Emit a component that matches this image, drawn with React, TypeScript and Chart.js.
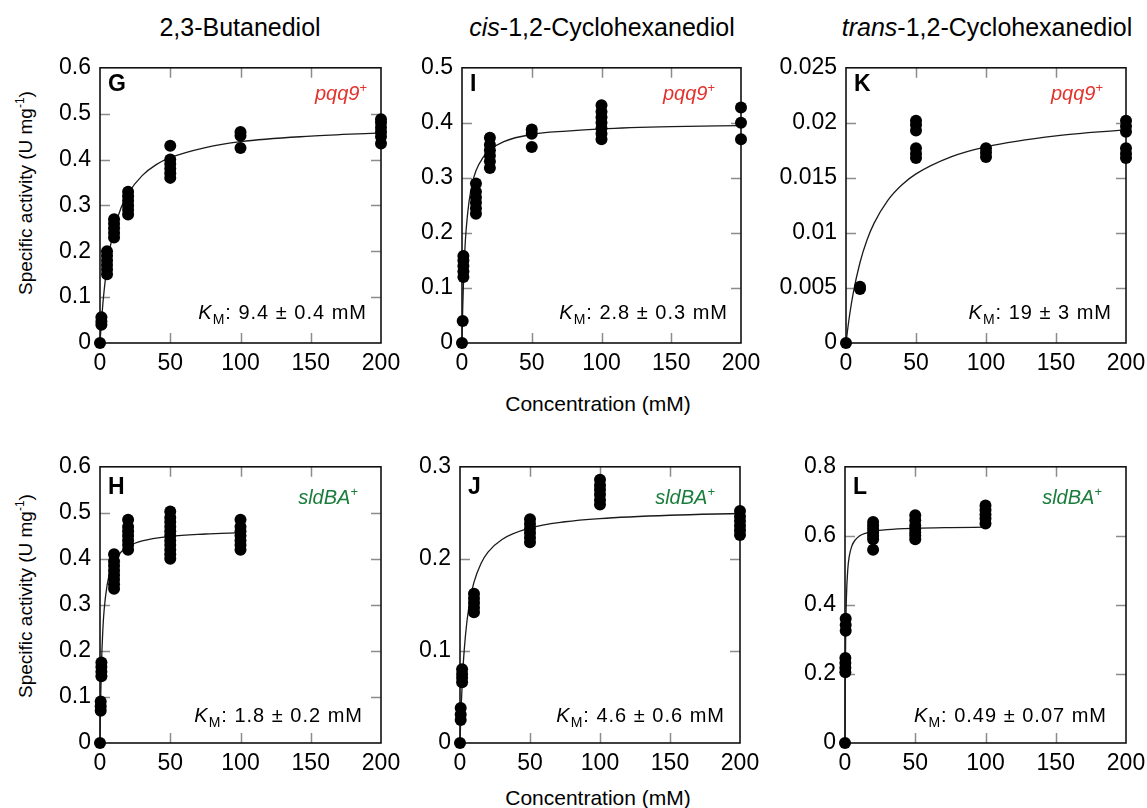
import React, { useEffect, useRef } from "react";
import { Chart, registerables } from "chart.js";

Chart.register(...registerables);

const FONT = '"Liberation Sans", Arial, Helvetica, sans-serif';

// ---------------- Data ----------------
// G: 2,3-Butanediol, pqq9+
const gConc = [0, 1, 1, 1, 5, 5, 5, 5, 5, 5, 10, 10, 10, 10, 10, 20, 20, 20, 20, 20, 20, 50, 50, 50, 50, 50, 50, 100, 100, 100, 200, 200, 200, 200, 200, 200];
const gAct = [0, 0.04, 0.047, 0.056, 0.15, 0.16, 0.17, 0.18, 0.19, 0.2, 0.23, 0.24, 0.25, 0.26, 0.27, 0.28, 0.29, 0.3, 0.31, 0.32, 0.33, 0.36, 0.37, 0.38, 0.39, 0.4, 0.43, 0.425, 0.452, 0.46, 0.435, 0.45, 0.46, 0.47, 0.48, 0.488];
const gFitConc = [0, 0.5, 1, 2, 3, 5, 7.5, 10, 15, 20, 30, 40, 50, 75, 100, 150, 200];
const gFitAct = [0, 0.024, 0.046, 0.084, 0.116, 0.167, 0.213, 0.247, 0.295, 0.326, 0.365, 0.389, 0.404, 0.426, 0.439, 0.451, 0.458];

// I: cis-1,2-Cyclohexanediol, pqq9+
const iConc = [0, 0.5, 1, 1, 1, 1, 1, 10, 10, 10, 10, 10, 10, 20, 20, 20, 20, 20, 20, 50, 50, 50, 100, 100, 100, 100, 100, 100, 100, 200, 200, 200];
const iAct = [0, 0.04, 0.12, 0.13, 0.14, 0.15, 0.158, 0.235, 0.245, 0.255, 0.265, 0.275, 0.29, 0.318, 0.33, 0.34, 0.35, 0.36, 0.373, 0.356, 0.38, 0.388, 0.37, 0.38, 0.39, 0.4, 0.41, 0.42, 0.432, 0.37, 0.4, 0.428];
const iFitConc = [0, 0.5, 1, 2, 3, 5, 7.5, 10, 15, 20, 30, 50, 75, 100, 150, 200];
const iFitAct = [0, 0.061, 0.105, 0.167, 0.207, 0.256, 0.291, 0.313, 0.337, 0.351, 0.366, 0.379, 0.385, 0.389, 0.393, 0.395];

// K: trans-1,2-Cyclohexanediol, pqq9+
const kConc = [0, 10, 10, 50, 50, 50, 50, 50, 50, 100, 100, 100, 200, 200, 200, 200, 200, 200];
const kAct = [0, 0.0049, 0.0051, 0.0168, 0.0172, 0.0177, 0.0193, 0.0198, 0.0202, 0.0169, 0.0173, 0.0177, 0.0168, 0.0172, 0.0177, 0.0192, 0.0197, 0.0202];
const kFitConc = [0, 2, 5, 10, 15, 20, 30, 40, 50, 75, 100, 150, 200];
const kFitAct = [0, 0.00202, 0.00442, 0.00731, 0.00935, 0.01087, 0.01298, 0.01437, 0.01536, 0.01691, 0.01782, 0.01882, 0.01936];

// H: 2,3-Butanediol, sldBA+
const hConc = [0, 0.5, 0.5, 0.5, 1, 1, 1, 1, 10, 10, 10, 10, 10, 10, 10, 10, 20, 20, 20, 20, 20, 20, 20, 50, 50, 50, 50, 50, 50, 50, 50, 50, 50, 50, 100, 100, 100, 100, 100, 100, 100];
const hAct = [0, 0.07, 0.08, 0.09, 0.145, 0.155, 0.165, 0.175, 0.335, 0.345, 0.355, 0.365, 0.375, 0.385, 0.395, 0.41, 0.42, 0.43, 0.44, 0.45, 0.46, 0.47, 0.485, 0.4, 0.41, 0.42, 0.43, 0.44, 0.45, 0.46, 0.47, 0.48, 0.49, 0.503, 0.42, 0.43, 0.44, 0.45, 0.46, 0.47, 0.485];
const hFitConc = [0, 0.25, 0.5, 1, 2, 3, 5, 7.5, 10, 15, 20, 30, 50, 75, 100];
const hFitAct = [0, 0.0567, 0.101, 0.166, 0.245, 0.291, 0.342, 0.375, 0.394, 0.415, 0.427, 0.439, 0.449, 0.454, 0.457];

// J: cis-1,2-Cyclohexanediol, sldBA+
const jConc = [0, 0.5, 0.5, 0.5, 1.5, 1.5, 1.5, 1.5, 10, 10, 10, 10, 10, 50, 50, 50, 50, 50, 50, 100, 100, 100, 100, 100, 100, 200, 200, 200, 200, 200, 200];
const jAct = [0, 0.025, 0.031, 0.038, 0.066, 0.071, 0.075, 0.08, 0.142, 0.147, 0.152, 0.157, 0.162, 0.218, 0.223, 0.228, 0.233, 0.238, 0.243, 0.259, 0.264, 0.27, 0.275, 0.28, 0.286, 0.226, 0.231, 0.236, 0.241, 0.246, 0.252];
const jFitConc = [0, 0.5, 1, 2, 3, 5, 7.5, 10, 15, 20, 30, 50, 75, 100, 150, 200];
const jFitAct = [0, 0.025, 0.0455, 0.0773, 0.1006, 0.1328, 0.158, 0.1747, 0.195, 0.2073, 0.2211, 0.2335, 0.2403, 0.2438, 0.2474, 0.2493];

// L: trans-1,2-Cyclohexanediol, sldBA+
const lConc = [0, 0.25, 0.25, 0.25, 0.25, 0.5, 0.5, 0.5, 20, 20, 20, 20, 20, 20, 20, 50, 50, 50, 50, 50, 50, 50, 100, 100, 100, 100, 100];
const lAct = [0, 0.205, 0.218, 0.232, 0.246, 0.325, 0.342, 0.36, 0.56, 0.59, 0.6, 0.61, 0.62, 0.63, 0.64, 0.59, 0.6, 0.61, 0.62, 0.63, 0.645, 0.66, 0.636, 0.65, 0.662, 0.675, 0.688];
const lFitConc = [0, 0.1, 0.25, 0.5, 1, 2, 3, 5, 7.5, 10, 15, 20, 30, 50, 75, 100];
const lFitAct = [0, 0.1064, 0.212, 0.317, 0.421, 0.504, 0.54, 0.572, 0.589, 0.599, 0.608, 0.613, 0.618, 0.622, 0.624, 0.625];

const xTicks = [0, 50, 100, 150, 200];

// ---------------- Layout ----------------
const PADL = 75;
const PADT = 20;
const PADR = 30;
const PADB = 40;

const RED = "#e3312b";
const GREEN = "#1b7d3c";

const decoPlugin = {
  id: "deco",
  beforeDatasetsDraw(chart: any) {
    const { ctx, chartArea: a, scales } = chart;
    const xs = scales.x;
    const ys = scales.y;
    ctx.save();
    ctx.strokeStyle = "#8c8c8c";
    ctx.lineWidth = 1.5;
    ctx.beginPath();
    xs.ticks.forEach((t: any) => {
      if (t.value <= xs.min || t.value >= xs.max) return;
      const px = Math.round(xs.getPixelForValue(t.value)) + 0.5;
      ctx.moveTo(px, a.top);
      ctx.lineTo(px, a.top + 10);
      ctx.moveTo(px, a.bottom);
      ctx.lineTo(px, a.bottom - 10);
    });
    ys.ticks.forEach((t: any) => {
      if (t.value <= ys.min + 1e-9 || t.value >= ys.max - 1e-9) return;
      const py = Math.round(ys.getPixelForValue(t.value)) + 0.5;
      ctx.moveTo(a.left, py);
      ctx.lineTo(a.left + 10, py);
      ctx.moveTo(a.right, py);
      ctx.lineTo(a.right - 10, py);
    });
    ctx.stroke();
    ctx.strokeStyle = "#111";
    ctx.lineWidth = 1.6;
    ctx.strokeRect(a.left, a.top, a.right - a.left, a.bottom - a.top);
    ctx.restore();
  },
  afterDatasetsDraw(chart: any, _args: any, opts: any) {
    const { ctx, chartArea: a } = chart;
    ctx.save();
    ctx.textBaseline = "alphabetic";
    ctx.textAlign = "left";
    // panel letter
    ctx.fillStyle = "#000";
    ctx.font = `bold 23px ${FONT}`;
    ctx.fillText(opts.letter, a.left + 8, a.top + opts.letterDy);
    // strain label
    ctx.fillStyle = opts.strainColor;
    ctx.font = `italic 20px ${FONT}`;
    const w1 = ctx.measureText(opts.strain).width;
    ctx.font = `13px ${FONT}`;
    const w2 = ctx.measureText("+").width;
    const sx = a.right - opts.strainInset - w1 - w2;
    const sy = a.top + opts.strainDy;
    ctx.font = `italic 20px ${FONT}`;
    ctx.fillText(opts.strain, sx, sy);
    ctx.font = `13px ${FONT}`;
    ctx.fillText("+", sx + w1, sy - 8);
    // KM text
    try {
      (ctx as any).letterSpacing = "1px";
    } catch (e) {}
    ctx.fillStyle = "#000";
    ctx.font = `italic 20px ${FONT}`;
    const kw = ctx.measureText("K").width;
    ctx.font = `14px ${FONT}`;
    const mw = ctx.measureText("M").width;
    ctx.font = `20px ${FONT}`;
    const rest = ": " + opts.km;
    const rw = ctx.measureText(rest).width;
    const kx = a.right - opts.kmInset - kw - mw - rw;
    const ky = a.bottom - opts.kmDy;
    ctx.font = `italic 20px ${FONT}`;
    ctx.fillText("K", kx, ky);
    ctx.font = `14px ${FONT}`;
    ctx.fillText("M", kx + kw, ky + 5);
    ctx.font = `20px ${FONT}`;
    ctx.fillText(rest, kx + kw + mw, ky);
    ctx.restore();
  },
};

type PanelProps = {
  left: number;
  top: number;
  width: number;
  height: number;
  conc: number[];
  act: number[];
  fitConc: number[];
  fitAct: number[];
  yMax: number;
  yStep: number;
  letter: string;
  strain: string;
  strainColor: string;
  strainInset: number;
  km: string;
  kmInset: number;
  letterDy: number;
  strainDy: number;
  kmDy: number;
};

function Panel(p: PanelProps) {
  const ref = useRef<HTMLCanvasElement | null>(null);
  useEffect(() => {
    if (!ref.current) return;
    const pts = p.conc.map((c, i) => ({ x: c, y: p.act[i] }));
    const fit = p.fitConc.map((c, i) => ({ x: c, y: p.fitAct[i] }));
    const chart = new Chart(ref.current, {
      type: "scatter",
      data: {
        datasets: [
          {
            data: pts,
            backgroundColor: "#000",
            borderWidth: 0,
            pointRadius: 6,
            pointHoverRadius: 6,
            clip: false,
          } as any,
          {
            data: fit,
            showLine: true,
            borderColor: "#1a1a1a",
            borderWidth: 1.3,
            pointRadius: 0,
            pointHoverRadius: 0,
            cubicInterpolationMode: "monotone",
            fill: false,
            clip: false,
          } as any,
        ],
      },
      options: {
        responsive: false,
        animation: false,
        devicePixelRatio: 1,
        events: [],
        layout: { padding: { left: 0, top: PADT, right: PADR, bottom: 0 } },
        plugins: {
          legend: { display: false },
          tooltip: { enabled: false },
          deco: {
            letter: p.letter,
            strain: p.strain,
            strainColor: p.strainColor,
            strainInset: p.strainInset,
            km: p.km,
            kmInset: p.kmInset,
            letterDy: p.letterDy,
            strainDy: p.strainDy,
            kmDy: p.kmDy,
          },
        } as any,
        scales: {
          x: {
            type: "linear",
            min: 0,
            max: 200,
            grid: { display: false, drawTicks: false },
            border: { display: false },
            afterBuildTicks: (scale: any) => {
              scale.ticks = xTicks.map((v) => ({ value: v }));
            },
            afterFit: (scale: any) => {
              scale.height = PADB;
            },
            ticks: {
              color: "#000",
              font: { family: FONT, size: 23 },
              padding: 7,
              maxRotation: 0,
              autoSkip: false,
            },
          },
          y: {
            type: "linear",
            min: 0,
            max: p.yMax,
            grid: { display: false, drawTicks: false },
            border: { display: false },
            afterFit: (scale: any) => {
              scale.width = PADL;
            },
            ticks: {
              stepSize: p.yStep,
              color: "#000",
              font: { family: FONT, size: 23 },
              padding: 9,
              autoSkip: false,
              callback: (v: any) => String(+Number(v).toFixed(4)),
            },
          },
        },
      },
      plugins: [decoPlugin as any],
    });
    return () => chart.destroy();
  }, []);
  const w = p.width + PADL + PADR;
  const h = p.height + PADT + PADB;
  return (
    <canvas
      ref={ref}
      width={w}
      height={h}
      style={{ position: "absolute", left: p.left - PADL, top: p.top - PADT, width: w, height: h }}
    />
  );
}

const textBase: React.CSSProperties = {
  position: "absolute",
  transform: "translate(-50%, -50%)",
  whiteSpace: "nowrap",
  lineHeight: 1,
  color: "#000",
  fontFamily: FONT,
};

export default function App() {
  return (
    <div
      style={{
        position: "absolute",
        left: 0,
        top: 0,
        width: 1147,
        height: 808,
        background: "#fff",
        fontFamily: FONT,
        overflow: "hidden",
      }}
    >
      <div style={{ ...textBase, left: 240, top: 27, fontSize: 25 }}>2,3-Butanediol</div>
      <div style={{ ...textBase, left: 602, top: 27, fontSize: 25 }}>
        <i>cis</i>-1,2-Cyclohexanediol
      </div>
      <div style={{ ...textBase, left: 987, top: 27, fontSize: 25 }}>
        <i>trans</i>-1,2-Cyclohexanediol
      </div>

      <div style={{ ...textBase, left: 598, top: 403, fontSize: 21 }}>Concentration (mM)</div>
      <div style={{ ...textBase, left: 598, top: 797, fontSize: 21 }}>Concentration (mM)</div>

      <div style={{ ...textBase, left: 25, top: 193, fontSize: 19, transform: "translate(-50%, -50%) rotate(-90deg)" }}>
        Specific activity (U mg<span style={{ fontSize: 12, position: "relative", top: -8 }}>-1</span>)
      </div>
      <div style={{ ...textBase, left: 25, top: 596, fontSize: 19, transform: "translate(-50%, -50%) rotate(-90deg)" }}>
        Specific activity (U mg<span style={{ fontSize: 12, position: "relative", top: -8 }}>-1</span>)
      </div>

      <Panel left={100} top={65} width={281} height={278} conc={gConc} act={gAct} fitConc={gFitConc} fitAct={gFitAct}
        yMax={0.6} yStep={0.1} letter="G" strain="pqq9" strainColor={RED} strainInset={14} km="9.4 ± 0.4 mM" kmInset={14}
        letterDy={23} strainDy={32} kmDy={24} />
      <Panel left={462} top={65} width={279} height={278} conc={iConc} act={iAct} fitConc={iFitConc} fitAct={iFitAct}
        yMax={0.5} yStep={0.1} letter="I" strain="pqq9" strainColor={RED} strainInset={26} km="2.8 ± 0.3 mM" kmInset={13}
        letterDy={23} strainDy={32} kmDy={24} />
      <Panel left={846} top={65} width={280} height={278} conc={kConc} act={kAct} fitConc={kFitConc} fitAct={kFitAct}
        yMax={0.025} yStep={0.005} letter="K" strain="pqq9" strainColor={RED} strainInset={23} km="19 ± 3 mM" kmInset={14}
        letterDy={23} strainDy={32} kmDy={24} />

      <Panel left={100} top={464} width={281} height={279} conc={hConc} act={hAct} fitConc={hFitConc} fitAct={hFitAct}
        yMax={0.6} yStep={0.1} letter="H" strain="sldBA" strainColor={GREEN} strainInset={23} km="1.8 ± 0.2 mM" kmInset={18}
        letterDy={27} strainDy={37} kmDy={21} />
      <Panel left={460} top={464} width={280} height={279} conc={jConc} act={jAct} fitConc={jFitConc} fitAct={jFitAct}
        yMax={0.3} yStep={0.1} letter="J" strain="sldBA" strainColor={GREEN} strainInset={25} km="4.6 ± 0.6 mM" kmInset={15}
        letterDy={27} strainDy={37} kmDy={21} />
      <Panel left={845} top={464} width={281} height={279} conc={lConc} act={lAct} fitConc={lFitConc} fitAct={lFitAct}
        yMax={0.8} yStep={0.2} letter="L" strain="sldBA" strainColor={GREEN} strainInset={24} km="0.49 ± 0.07 mM" kmInset={19}
        letterDy={27} strainDy={37} kmDy={21} />
    </div>
  );
}
